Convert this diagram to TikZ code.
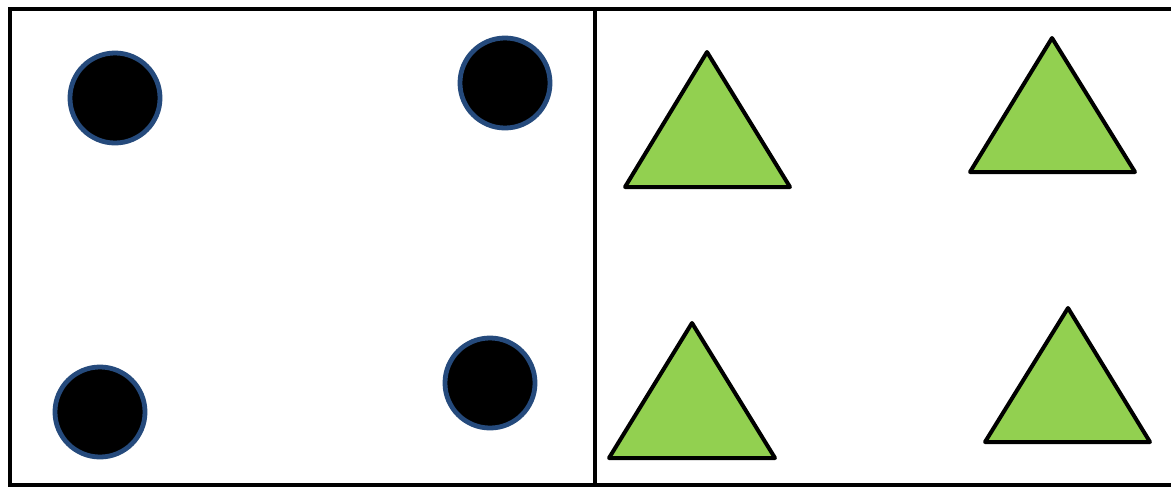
\documentclass[tikz,border=0pt]{standalone}
\usetikzlibrary{positioning}
\definecolor{dotblue}{RGB}{37,74,124}
\definecolor{trigreen}{RGB}{146,208,80}
\tikzset{
  cmp/frame/.style={draw=black, line width=1mm},
  cmp/dot/.style={circle, fill=black, draw=dotblue, line width=1.2mm, minimum size=2.25cm, inner sep=0pt},
  cmp/tri/.style={fill=trigreen, draw=black, line width=1mm, line join=round},
}

\begin{document}
\begin{tikzpicture}[x=0.025cm, y=-0.025cm]
  \clip (0,0) rectangle (1171,487);
  \fill[white] (0,0) rectangle (1171,487);

  % Rahmen und Trennlinie
  \draw[cmp/frame] (10,9) rectangle (1190,485);
  \coordinate (divtop) at (595,9);
  \coordinate (divbot) at (595,485);
  \draw[cmp/frame] (divtop) -- (divbot);

  % Kreise links
  \node[cmp/dot] (dotA) at (115,98) {};
  \node[cmp/dot] (dotB) at (505,83) {};
  \node[cmp/dot] (dotC) at (100,412) {};
  \node[cmp/dot] (dotD) at (490,383) {};

  % Dreiecke rechts
  \draw[cmp/tri] (707,52) coordinate (triA) -- (790,187) -- (625,187) -- cycle;
  \draw[cmp/tri] (1052,38) coordinate (triB) -- (1135,172) -- (970,172) -- cycle;
  \draw[cmp/tri] (692,323) coordinate (triC) -- (775,458) -- (609,458) -- cycle;
  \draw[cmp/tri] (1068,308) coordinate (triD) -- (1150,442) -- (985,442) -- cycle;

\end{tikzpicture}
\end{document}
